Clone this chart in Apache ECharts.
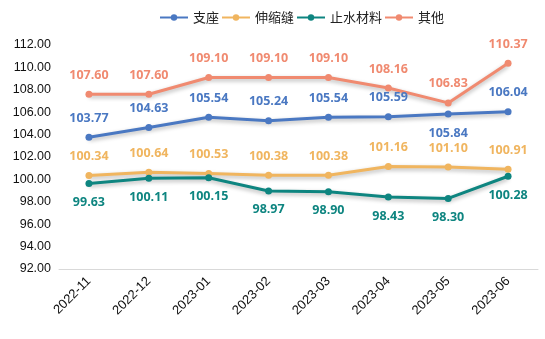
<!DOCTYPE html>
<html><head><meta charset="utf-8">
<script src="https://cdn.jsdelivr.net/npm/echarts@6/dist/echarts.min.js"></script>
<style>html,body{margin:0;padding:0;background:#fff}#c{width:545px;height:339px}</style>
</head><body><div id="c"></div>
<script>
const categories = ['2022-11','2022-12','2023-01','2023-02','2023-03','2023-04','2023-05','2023-06'];
const zhizuo = [103.77,104.63,105.54,105.24,105.54,105.59,105.84,106.04];
const shensuofeng = [100.34,100.64,100.53,100.38,100.38,101.16,101.10,100.91];
const zhishui = [99.63,100.11,100.15,98.97,98.90,98.43,98.30,100.28];
const qita = [107.60,107.60,109.10,109.10,109.10,108.16,106.83,110.37];
const names = ['支座','伸缩缝','止水材料','其他'];
const colors = ['#4a78c2','#f0b55f','#0e8580','#f08a70'];
const zhizuoLabelPos = ['top','top','top','top','top','top','bottom','top'];

const chart = echarts.init(document.getElementById('c'));
function mk(name, data, color, pos) {
  return {
    name: name, type: 'line', data: data.map((v,i)=>({value:v, label:{position: Array.isArray(pos)?pos[i]:pos}})),
    symbol: 'circle', symbolSize: 7,
    lineStyle: {width: 3, color: color, shadowColor: 'rgba(0,0,0,0.3)', shadowBlur: 4, shadowOffsetY: 2},
    itemStyle: {color: color},
    label: {show: true, color: color, fontWeight: 'bold', fontSize: 12.5, fontFamily: 'Open Sans', distance: 9,
      formatter: p => p.value.toFixed(2)}
  };
}
chart.setOption({
  animation: false,
  color: colors,
  textStyle: {fontFamily: 'Noto Sans CJK SC'},
  legend: {top: 6, left: 154, itemWidth: 28, itemHeight: 8, itemGap: 2,
    textStyle: {fontSize: 13, color: '#222'}, data: names},
  grid: {left: 59, right: 7, top: 45, bottom: 70},
  xAxis: {type: 'category', data: categories, boundaryGap: true,
    axisLine: {lineStyle: {color: '#d9d9d9'}}, axisTick: {show: false},
    axisLabel: {rotate: 45, fontSize: 13, color: '#111', fontFamily: 'Liberation Sans', margin: 10}},
  yAxis: {type: 'value', min: 92, max: 112, interval: 2,
    axisLine: {show: false}, axisTick: {show: false}, splitLine: {show: false},
    axisLabel: {formatter: v => v.toFixed(2), fontSize: 12.5, color: '#111', fontFamily: 'Liberation Sans', margin: 8}},
  series: [
    mk(names[0], zhizuo, colors[0], zhizuoLabelPos),
    mk(names[1], shensuofeng, colors[1], 'top'),
    mk(names[2], zhishui, colors[2], 'bottom'),
    mk(names[3], qita, colors[3], 'top')
  ]
});
</script></body></html>
